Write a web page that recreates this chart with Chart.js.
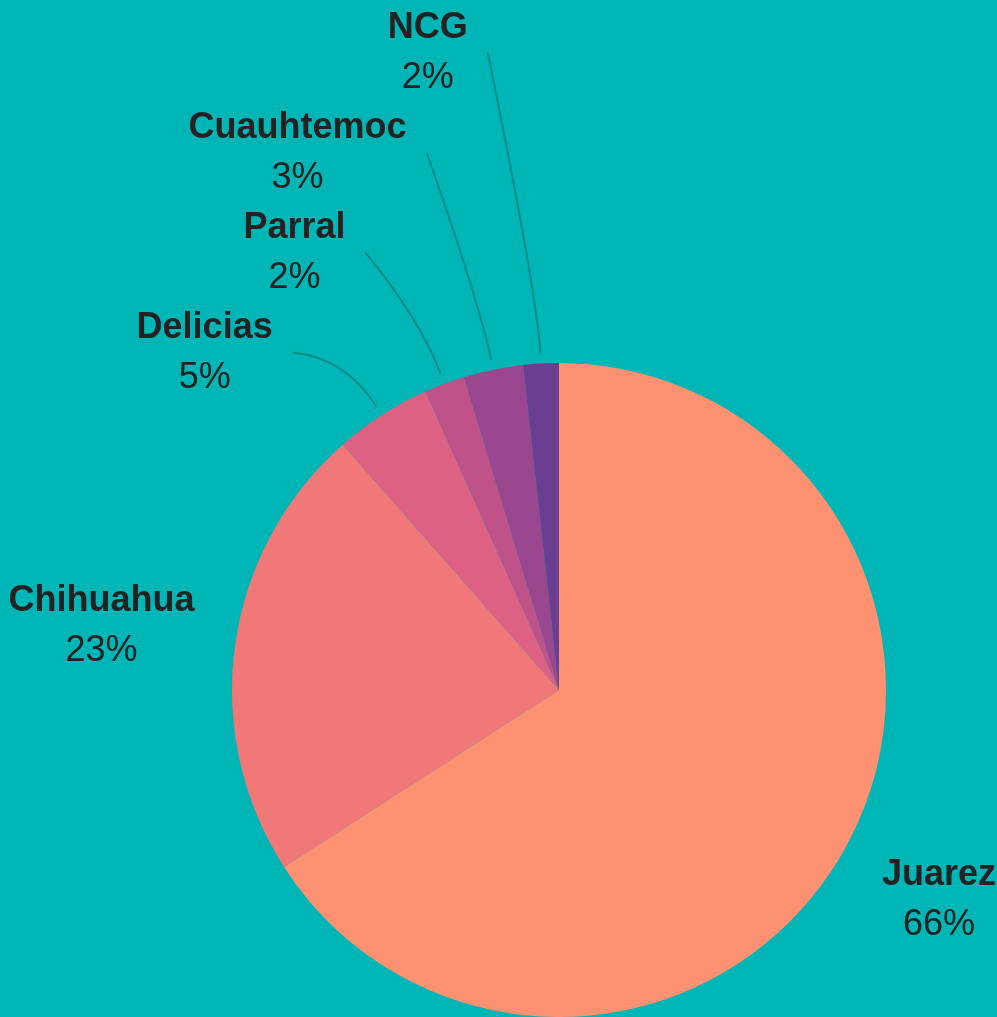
<!DOCTYPE html>
<html>
<head>
<meta charset="utf-8">
<script src="https://cdn.jsdelivr.net/npm/chart.js@4/dist/chart.umd.min.js"></script>
<style>
  html, body { margin: 0; padding: 0; background: #00b5b5; }
  canvas { display: block; }
</style>
</head>
<body>
<canvas id="pie" width="997" height="1017"></canvas>
<script>
// regiones y su participacion (%)
const regions = ['Juarez', 'Chihuahua', 'Delicias', 'Parral', 'Cuauhtemoc', 'NCG'];
const shares = [65.9, 22.6, 4.8, 2.0, 2.95, 1.75];
const sliceColors = ['#ff9173', '#f07878', '#dd6183', '#be5289', '#9b478f', '#6a3f92'];

const total = shares.reduce((a, b) => a + b, 0);

// etiquetas con nombre y porcentaje, las pequeñas apiladas con linea guia
const labelPlugin = {
  id: 'sliceLabels',
  afterDatasetsDraw(chart) {
    const ctx = chart.ctx;
    const meta = chart.getDatasetMeta(0);
    let stack = 0;
    ctx.save();
    meta.data.forEach((arc, i) => {
      const { x, y, startAngle, endAngle, outerRadius } =
        arc.getProps(['x', 'y', 'startAngle', 'endAngle', 'outerRadius'], true);
      const mid = (startAngle + endAngle) / 2;
      const dx = Math.cos(mid), dy = Math.sin(mid);
      const name = regions[i];
      const pct = Math.round(shares[i] / total * 100) + '%';

      ctx.font = 'bold 36px "Liberation Sans", Arial, sans-serif';
      const wName = ctx.measureText(name).width;
      ctx.font = '36px "Liberation Sans", Arial, sans-serif';
      const w = Math.max(wName, ctx.measureText(pct).width);

      let lx, base;
      if (shares[i] / total >= 0.1) {
        const ax = x + dx * (outerRadius + 41);
        const ay = y + dy * (outerRadius + 41);
        lx = dx < 0 ? ax - w / 2 : ax + w / 2;
        base = ay + 75 * dy - 5 - 12.5;
      } else {
        const ex = x + dx * (outerRadius + 10);
        const ey = y + dy * (outerRadius + 10);
        const blockY = y - outerRadius - 12.5 - 100 * stack;
        stack++;
        const sy = blockY + 2;
        const sx = ex - (90.8 - 0.1265 * (ey - sy));
        ctx.beginPath();
        ctx.moveTo(sx, sy);
        ctx.quadraticCurveTo(ex + dx * 58, ey + dy * 58, ex, ey);
        ctx.strokeStyle = '#0e8c8c';
        ctx.lineWidth = 2;
        ctx.stroke();
        lx = sx - 20 - w / 2;
        base = blockY - 12.5;
      }

      ctx.fillStyle = '#222222';
      ctx.textAlign = 'center';
      ctx.textBaseline = 'alphabetic';
      ctx.font = 'bold 36px "Liberation Sans", Arial, sans-serif';
      ctx.fillText(name, lx, base);
      ctx.font = '36px "Liberation Sans", Arial, sans-serif';
      ctx.fillText(pct, lx, base + 50);
    });
    ctx.restore();
  }
};

new Chart(document.getElementById('pie').getContext('2d'), {
  type: 'pie',
  data: {
    labels: regions,
    datasets: [{
      data: shares,
      backgroundColor: sliceColors,
      borderWidth: 0
    }]
  },
  options: {
    responsive: false,
    animation: false,
    layout: { padding: { top: 363, bottom: 0, left: 232, right: 111 } },
    plugins: {
      legend: { display: false },
      tooltip: { enabled: false }
    }
  },
  plugins: [labelPlugin]
});
</script>
</body>
</html>
